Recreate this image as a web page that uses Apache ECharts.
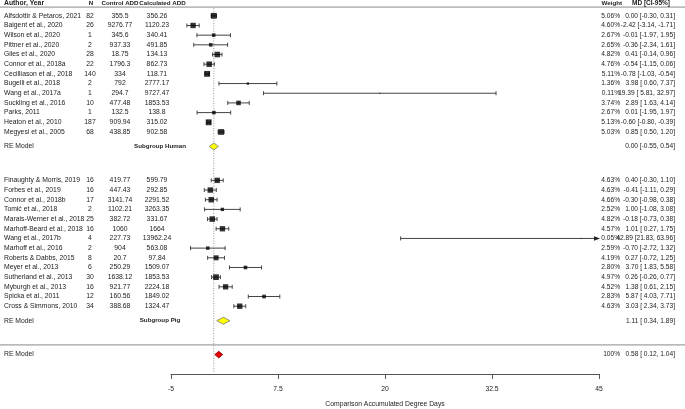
<!DOCTYPE html>
<html>
<head>
<meta charset="utf-8">
<script src="https://cdn.jsdelivr.net/npm/echarts@6/dist/echarts.min.js"></script>
<style>
  html, body { margin: 0; padding: 0; background: #fff; }
  #chart { width: 685px; height: 409px; }
</style>
</head>
<body>
<div id="chart"></div>
<script>
// ---- data ----
const humanAuthors = ['Alfsdottir & Petaros, 2021', 'Baigent et al., 2020', 'Wilson et al., 2020', 'Pittner et al., 2020',
  'Giles et al., 2020', 'Connor et al., 2018a', 'Cecilliason et al., 2018', 'Bugelli et al., 2018', 'Wang et al., 2017a',
  'Suckling et al., 2016', 'Parks, 2011', 'Heaton et al., 2010', 'Megyesi et al., 2005']
const humanN = [82, 26, 1, 2, 28, 22, 140, 2, 1, 10, 1, 187, 68]
const humanControl = [355.5, 9276.77, 345.6, 937.33, 18.75, 1796.3, 334, 792, 294.7, 477.48, 132.5, 909.94, 438.85]
const humanCalc = [356.26, 1120.23, 340.41, 491.85, 134.13, 862.73, 118.71, 2777.17, 9727.47, 1853.53, 138.8, 315.02, 902.58]
const humanWeight = [5.06, 4.60, 2.67, 2.65, 4.82, 4.76, 5.11, 1.36, 0.11, 3.74, 2.67, 5.13, 5.03]
const humanMD = [0.00, -2.42, -0.01, -0.36, 0.41, -0.54, -0.78, 3.98, 19.39, 2.89, 0.01, -0.60, 0.85]
const humanLo = [-0.30, -3.14, -1.97, -2.34, -0.14, -1.15, -1.03, 0.60, 5.81, 1.63, -1.95, -0.80, 0.50]
const humanHi = [0.31, -1.71, 1.95, 1.61, 0.96, 0.06, -0.54, 7.37, 32.97, 4.14, 1.97, -0.39, 1.20]

const pigAuthors = ['Finaughty & Morris, 2019', 'Forbes et al., 2019', 'Connor et al., 2018b', 'Tomić et al., 2018',
  'Marais-Werner et al., 2018', 'Marhoff-Beard et al., 2018', 'Wang et al., 2017b', 'Marhoff et al., 2016',
  'Roberts & Dabbs, 2015', 'Meyer et al., 2013', 'Sutherland et al., 2013', 'Myburgh et al., 2013',
  'Spicka et al., 2011', 'Cross & Simmons, 2010']
const pigN = [16, 16, 17, 2, 25, 16, 4, 2, 8, 6, 30, 16, 12, 34]
const pigControl = [419.77, 447.43, 3141.74, 1102.21, 382.72, 1060, 227.73, 904, 20.7, 250.29, 1638.12, 921.77, 160.56, 388.68]
const pigCalc = [599.79, 292.85, 2291.52, 3263.35, 331.67, 1664, 13962.24, 563.08, 97.84, 1509.07, 1853.53, 2224.18, 1849.02, 1324.47]
const pigWeight = [4.63, 4.63, 4.66, 2.52, 4.82, 4.57, 0.05, 2.59, 4.19, 2.80, 4.97, 4.52, 2.83, 4.63]
const pigMD = [0.40, -0.41, -0.30, 1.00, -0.18, 1.01, 42.89, -0.70, 0.27, 3.70, 0.26, 1.38, 5.87, 3.03]
const pigLo = [-0.30, -1.11, -0.98, -1.08, -0.73, 0.27, 21.83, -2.72, -0.72, 1.83, -0.26, 0.61, 4.03, 2.34]
const pigHi = [1.10, 0.29, 0.38, 3.08, 0.38, 1.75, 63.96, 1.32, 1.25, 5.58, 0.77, 2.15, 7.71, 3.73]

const summaryLabels = ['Subgroup Human', 'Subgroup Pig', '']
const summaryWeight = [null, null, 100]
const summaryMD = [-0.00, 1.11, 0.58]
const summaryLo = [-0.55, 0.34, 0.12]
const summaryHi = [0.54, 1.89, 1.04]

const xTicks = [-5, 7.5, 20, 32.5, 45]
const xMin = -5
const xMax = 45

// ---- layout ----
const humanRows = humanAuthors.map((_, i) => i)
const pigRows = pigAuthors.map((_, i) => 17 + i)
const summaryRows = [13.5, 31.5, 35]
const rowMin = -1
const rowMax = 37

const COL = { author: 4, n: 90, control: 120, calc: 157, weight: 620, md: 675, subgroup: 160 }
const FONT = 'Liberation Sans, Arial, Helvetica, sans-serif'
const FS = 6.8
const FS_MD = 6.6
const TXT = '#222'

const fixed = v => (v.toFixed(2) === '-0.00' ? '0.00' : v.toFixed(2))
const mdText = (m, lo, hi) => m.toFixed(2) + ' [' + fixed(lo).padStart(5, ' ') + ', ' + fixed(hi) + ']'

const studies = []
humanAuthors.forEach((a, i) => studies.push({
  author: a, n: humanN[i], control: humanControl[i], calc: humanCalc[i], weight: humanWeight[i],
  md: humanMD[i], lo: humanLo[i], hi: humanHi[i], row: humanRows[i]
}))
pigAuthors.forEach((a, i) => studies.push({
  author: a, n: pigN[i], control: pigControl[i], calc: pigCalc[i], weight: pigWeight[i],
  md: pigMD[i], lo: pigLo[i], hi: pigHi[i], row: pigRows[i]
}))

const chart = echarts.init(document.getElementById('chart'), null, { renderer: 'canvas' })

const txt = (text, x, y, align, bold, size) => ({
  type: 'text',
  style: {
    text: text, x: x, y: y, align: align, verticalAlign: 'middle',
    fill: TXT, fontSize: size || FS, fontFamily: FONT, fontWeight: bold ? 'bold' : 'normal'
  },
  silent: true
})

const option = {
  animation: false,
  grid: { left: 171, right: 86, top: 6.12, bottom: 35.04, outerBoundsMode: 'none' },
  xAxis: {
    type: 'value',
    min: xMin,
    max: xMax,
    name: 'Comparison Accumulated Degree Days',
    nameLocation: 'middle',
    nameGap: 26.5,
    nameTextStyle: { color: TXT, fontSize: FS, fontFamily: FONT },
    axisLine: { show: true, onZero: false, lineStyle: { color: '#555', width: 1 } },
    axisTick: { show: true, inside: false, length: 5, customValues: xTicks, lineStyle: { color: '#555' } },
    axisLabel: { customValues: xTicks, color: TXT, fontSize: FS, fontFamily: FONT, margin: 12 },
    splitLine: { show: false }
  },
  yAxis: {
    type: 'value',
    inverse: true,
    min: rowMin,
    max: rowMax,
    show: false
  },
  series: [
    {
      // reference line, rules and headers
      type: 'custom',
      clip: false,
      silent: true,
      data: [[0, 0]],
      renderItem: (params, api) => {
        const top = api.coord([0, -0.8])
        const bot = api.coord([0, 36.9])
        const yHead = api.coord([0, -1.33])[1]
        const yRule = api.coord([0, -0.9])[1]
        const ySep = api.coord([0, 34])[1]
        const w = api.getWidth()
        return {
          type: 'group',
          children: [
            { type: 'line', shape: { x1: top[0], y1: top[1], x2: bot[0], y2: bot[1] },
              style: { stroke: '#999', lineWidth: 1, lineDash: [1, 1.5] } },
            { type: 'line', shape: { x1: 0, y1: yRule, x2: w, y2: yRule }, style: { stroke: '#8a8a8a', lineWidth: 1 } },
            { type: 'line', shape: { x1: 0, y1: ySep, x2: w, y2: ySep }, style: { stroke: '#8a8a8a', lineWidth: 1 } },
            txt('Author, Year', COL.author, yHead, 'left', true),
            txt('N', COL.n + 1, yHead, 'center', true, 6.2),
            txt('Control ADD', COL.control, yHead, 'center', true, 6.2),
            txt('Calculated ADD', 162.5, yHead, 'center', true, 6.2),
            txt('Weight', 622, yHead, 'right', true, 6.2),
            txt('MD [CI-95%]', 651, yHead, 'center', true, 6.5)
          ]
        }
      }
    },
    {
      // confidence intervals
      type: 'custom',
      clip: false,
      silent: true,
      data: studies.map(s => [s.lo, s.hi, s.row]),
      renderItem: (params, api) => {
        const lo = api.value(0), hi = api.value(1), row = api.value(2)
        const a = api.coord([Math.max(lo, xMin), row])
        const b = api.coord([Math.min(hi, xMax), row])
        const y = a[1]
        const st = { stroke: '#444', lineWidth: 1 }
        const kids = [{ type: 'line', shape: { x1: a[0], y1: y, x2: b[0], y2: y }, style: st }]
        if (lo >= xMin) kids.push({ type: 'line', shape: { x1: a[0], y1: y - 2, x2: a[0], y2: y + 2 }, style: st })
        if (hi <= xMax) {
          kids.push({ type: 'line', shape: { x1: b[0], y1: y - 2, x2: b[0], y2: y + 2 }, style: st })
        } else {
          kids.push({ type: 'polygon', shape: { points: [[b[0] - 5, y - 2.3], [b[0] + 1, y], [b[0] - 5, y + 2.3]] },
            style: { fill: '#222' } })
        }
        return { type: 'group', children: kids }
      }
    },
    {
      // point estimates, size from weight
      type: 'scatter',
      silent: true,
      symbol: 'rect',
      symbolSize: v => 1 + v[2] * 0.95,
      itemStyle: { color: '#000' },
      data: studies.map(s => [s.md, s.row, s.weight])
    },
    {
      // summary diamonds
      type: 'custom',
      clip: false,
      silent: true,
      data: summaryMD.map((m, i) => [summaryLo[i], m, summaryHi[i], summaryRows[i], i]),
      renderItem: (params, api) => {
        const row = api.value(3)
        const l = api.coord([api.value(0), row])
        const c = api.coord([api.value(1), row])
        const r = api.coord([api.value(2), row])
        const overall = api.value(4) === 2
        const h = overall ? 3.3 : 3.5
        return {
          type: 'polygon',
          shape: { points: [[l[0], l[1]], [c[0], c[1] - h], [r[0], r[1]], [c[0], c[1] + h]] },
          style: { fill: overall ? '#ee0000' : '#ffff00', stroke: overall ? '#700' : '#777', lineWidth: 0.8 }
        }
      }
    },
    {
      // study text columns
      type: 'custom',
      clip: false,
      silent: true,
      data: studies.map(s => [s.md, s.row]),
      renderItem: (params, api) => {
        const s = studies[params.dataIndex]
        const y = api.coord([0, s.row])[1]
        return {
          type: 'group',
          children: [
            txt(s.author, COL.author, y, 'left'),
            txt(String(s.n), COL.n, y, 'center'),
            txt(String(s.control), COL.control, y, 'center'),
            txt(String(s.calc), COL.calc, y, 'center'),
            txt(s.weight.toFixed(2) + '%', COL.weight, y, 'right', false, FS_MD),
            txt(mdText(s.md, s.lo, s.hi), COL.md, y, 'right', false, FS_MD)
          ]
        }
      }
    },
    {
      // summary text
      type: 'custom',
      clip: false,
      silent: true,
      data: summaryMD.map((m, i) => [m, summaryRows[i]]),
      renderItem: (params, api) => {
        const i = params.dataIndex
        const y = api.coord([0, summaryRows[i]])[1]
        const kids = [
          txt('RE Model', COL.author, y, 'left'),
          txt(mdText(summaryMD[i], summaryLo[i], summaryHi[i]), COL.md, y, 'right', false, FS_MD)
        ]
        if (summaryLabels[i]) kids.push(txt(summaryLabels[i], COL.subgroup, y, 'center', true, 6.2))
        if (summaryWeight[i] != null) kids.push(txt(summaryWeight[i] + '%', COL.weight, y, 'right', false, FS_MD))
        return { type: 'group', children: kids }
      }
    }
  ]
}

chart.setOption(option)
</script>
</body>
</html>
